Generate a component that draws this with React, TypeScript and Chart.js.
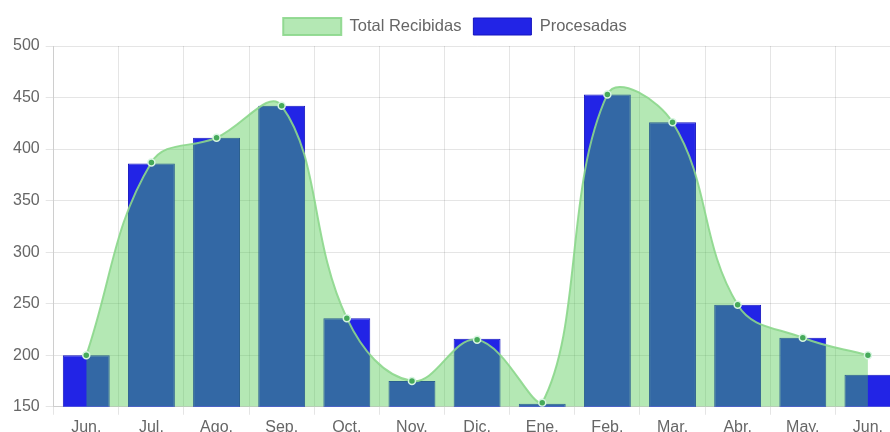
import React, { useEffect, useRef } from "react";
import { Chart, registerables } from "chart.js";

Chart.register(...registerables);

const months = ["Jun.", "Jul.", "Ago.", "Sep.", "Oct.", "Nov.", "Dic.", "Ene.", "Feb.", "Mar.", "Abr.", "May.", "Jun."];
const totalRecibidas = [200, 387, 411, 442, 236, 175, 215, 154, 453, 426, 249, 217, 200];
const procesadas = [200, 386, 411, 442, 236, 175, 216, 153, 453, 426, 249, 217, 181];
const yTicks = [150, 200, 250, 300, 350, 400, 450, 500];

const legendGap = {
  id: "legendGap",
  beforeInit(chart: any) {
    const legend = chart.legend;
    if (!legend) return;
    const origFit = legend.fit;
    legend.fit = function () {
      origFit.call(this);
      this.height += 1;
    };
  },
};

export default function App() {
  const ref = useRef<HTMLCanvasElement | null>(null);
  useEffect(() => {
    if (!ref.current) return;
    const font = { family: "'Liberation Sans', Arial, sans-serif", size: 16 };
    const legendFont = { family: "'Liberation Sans', Arial, sans-serif", size: 16.5 };
    const chart = new Chart(ref.current, {
      type: "bar",
      data: {
        labels: months,
        datasets: [
          {
            type: "line",
            label: "Total Recibidas",
            data: totalRecibidas,
            fill: "origin",
            backgroundColor: "rgba(76, 200, 76, 0.42)",
            borderColor: "rgba(140, 215, 140, 0.9)",
            borderWidth: 2,
            tension: 0.4,
            pointRadius: 3.5,
            pointBackgroundColor: "rgb(70, 170, 90)",
            pointBorderColor: "rgb(215, 245, 225)",
            pointBorderWidth: 1.5,
          },
          {
            type: "bar",
            label: "Procesadas",
            data: procesadas,
            backgroundColor: "rgb(34, 36, 230)",
            borderColor: "rgb(20, 20, 190)",
            borderWidth: 1,
          },
        ],
      },
      options: {
        responsive: false,
        animation: false,
        layout: { padding: { left: 7, top: 6, right: 3, bottom: 0 } },
        plugins: {
          legend: {
            position: "top",
            labels: { font: legendFont, color: "#666", boxWidth: 58, boxHeight: 17, padding: 12 },
          },
          tooltip: { enabled: false },
        },
        scales: {
          x: {
            ticks: { font, color: "#666" },
            grid: { color: "rgba(0,0,0,0.1)", offset: true },
          },
          y: {
            min: yTicks[0],
            max: yTicks[yTicks.length - 1],
            afterBuildTicks: (axis: any) => {
              axis.ticks = yTicks.map((v) => ({ value: v }));
            },
            ticks: { font, color: "#666", padding: 6 },
            grid: { color: "rgba(0,0,0,0.1)" },
          },
        },
      },
      plugins: [legendGap],
    });
    return () => chart.destroy();
  }, []);
  return (
    <div style={{ position: "absolute", left: 0, top: 0, width: 890, height: 432, overflow: "hidden", background: "#fff" }}>
      <canvas ref={ref} width={906} height={440} style={{ width: 906, height: 440, display: "block" }} />
    </div>
  );
}
